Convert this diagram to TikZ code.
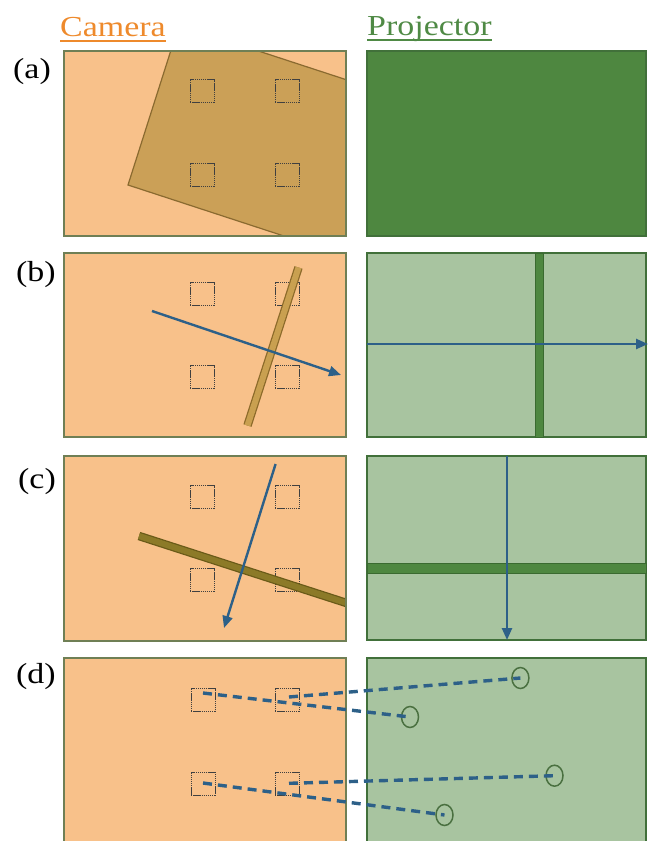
\documentclass[tikz,border=0pt]{standalone}
\usepackage{fontspec}
\setmainfont{Liberation Serif}
\usetikzlibrary{arrows.meta,shapes.geometric}
\definecolor{camfill}{HTML}{F8C18A}
\definecolor{camborder}{HTML}{6F7F55}
\definecolor{quadfill}{HTML}{CBA057}
\definecolor{quadborder}{HTML}{8A6A30}
\definecolor{projdark}{HTML}{4E8740}
\definecolor{projlight}{HTML}{A8C4A0}
\definecolor{projborder}{HTML}{41703A}
\definecolor{stripeb}{HTML}{C9A050}
\definecolor{stripebb}{HTML}{8C6A2A}
\definecolor{stripec}{HTML}{8C7A28}
\definecolor{stripecb}{HTML}{6A5A18}
\definecolor{pstripe}{HTML}{4E8740}
\definecolor{pstripeb}{HTML}{3A6A30}
\definecolor{arrblue}{HTML}{2D6088}
\definecolor{camtext}{HTML}{EE8A2C}
\definecolor{projtext}{HTML}{4F8A45}
\definecolor{circcol}{HTML}{4A7040}
\begin{document}
\begin{tikzpicture}[x=1pt,y=-1pt,
  lbl/.style={anchor=base west,inner sep=0pt,font=\fontsize{29}{30}\selectfont},
  campanel/.style={fill=camfill,draw=camborder,line width=1.2pt},
  projpanel/.style={fill=projlight,draw=projborder,line width=1.2pt},
  sq/.style={draw=black!75,line width=0.9pt,dash pattern=on 1.4pt off 0.7pt,minimum width=24pt,minimum height=23pt,inner sep=0pt},
  quad/.style={fill=quadfill,draw=quadborder,line width=1.2pt},
  bluearrow/.style={draw=arrblue,line width=2.4pt,-{Triangle[length=12pt,width=10pt]}},
  pstripestyle/.style={fill=pstripe,draw=pstripeb,line width=0.8pt},
  bluedash/.style={draw=arrblue,line width=3.4pt,dash pattern=on 9pt off 6pt},
  circ/.style={ellipse,draw=circcol,line width=1.5pt,minimum width=17pt,minimum height=21pt,inner sep=0pt}]
\useasboundingbox (0,0) rectangle (649,841);
\clip (0,0) rectangle (649,841);

% titles
\node[lbl,text=camtext] (tcam) at (60,36) {\scalebox{1.17}[1]{Camera}};
\draw[camtext,line width=1.5pt] (tcam.base west) ++(0,5) coordinate (u1) -- ++(106,0) coordinate (u2);
\node[lbl,text=projtext] (tproj) at (367,35) {\scalebox{1.17}[1]{Projector}};
\draw[projtext,line width=1.5pt] (tproj.base west) ++(0,5) coordinate (u3) -- ++(125,0) coordinate (u4);

% row labels
\node[lbl] (la) at (13,78) {\scalebox{1.17}[1]{(a)}};
\node[lbl] (lb) at (16,281) {\scalebox{1.17}[1]{(b)}};
\node[lbl] (lc) at (18,488) {\scalebox{1.17}[1]{(c)}};
\node[lbl] (ld) at (16,683) {\scalebox{1.17}[1]{(d)}};

% ===== (a) =====
\fill[camfill] (64,51) rectangle (346,236);
\begin{scope}
  \clip (64,51) rectangle (346,236);
  \filldraw[quad] (128,185) -- (179,25) -- (503,131) -- (452,291) -- cycle;
\end{scope}
\draw[camborder,line width=1.2pt] (64,51) rectangle (346,236);
\node[sq] (a1) at (202,91) {};
\node[sq] (a2) at (287,91) {};
\node[sq] (a3) at (202,175) {};
\node[sq] (a4) at (287,175) {};
\filldraw[fill=projdark,draw=projborder,line width=1.2pt] (367,51) rectangle (646,236);

% ===== (b) =====
\draw[campanel] (64,253) rectangle (346,437);
\node[sq] (b1) at (202,294) {};
\node[sq] (b2) at (287,294) {};
\node[sq] (b3) at (202,377) {};
\node[sq] (b4) at (287,377) {};
\coordinate (bs1) at (298.5,267.5);
\coordinate (bs2) at (247.5,425.5);
\draw[stripebb,line width=8.5pt] (bs1) -- (bs2);
\draw[stripeb,line width=6pt] (bs1) -- (bs2);
\coordinate (ba1) at (152,311);
\coordinate (ba2) at (341,375);
\draw[bluearrow] (ba1) -- (ba2);
\draw[projpanel] (367,253) rectangle (646,437);
\filldraw[pstripestyle] (535,253) rectangle (543,437);
\coordinate (bp1) at (367,344);
\coordinate (bp2) at (648,344);
\draw[bluearrow] (bp1) -- (bp2);

% ===== (c) =====
\draw[campanel] (64,456) rectangle (346,641);
\node[sq] (c1) at (202,497) {};
\node[sq] (c2) at (287,497) {};
\node[sq] (c3) at (202,580) {};
\node[sq] (c4) at (287,580) {};
\begin{scope}
  \clip (64,456) rectangle (345.4,641);
  \coordinate (cs1) at (139,536);
  \coordinate (cs2) at (370,610.6);
  \draw[stripecb,line width=8.5pt] (cs1) -- (cs2);
  \draw[stripec,line width=6pt] (cs1) -- (cs2);
\end{scope}
\draw[camborder,line width=1.2pt] (64,456) rectangle (346,641);
\coordinate (ca1) at (275.6,464);
\coordinate (ca2) at (224,628);
\draw[bluearrow] (ca1) -- (ca2);
\draw[projpanel] (367,456) rectangle (646,640);
\filldraw[pstripestyle] (367,563.5) rectangle (646,573.5);
\coordinate (cp1) at (507,456);
\coordinate (cp2) at (507,640);
\draw[bluearrow] (cp1) -- (cp2);

% ===== (d) =====
\draw[campanel] (64,658) rectangle (346,850);
\node[sq] (d1) at (203,700) {};
\node[sq] (d2) at (287,700) {};
\node[sq] (d3) at (203,783.5) {};
\node[sq] (d4) at (287,783.5) {};
\draw[projpanel] (367,658) rectangle (646,850);
\node[circ] (e1) at (410,717) {};
\node[circ] (e2) at (520.4,678) {};
\node[circ] (e3) at (444.5,815) {};
\node[circ] (e4) at (554.5,775.7) {};
\coordinate (s1) at (203,693);
\coordinate (s2) at (289,697);
\coordinate (s3) at (203,783);
\coordinate (s4) at (289,783.3);
\draw[bluedash] (s1) -- (e1.center);
\draw[bluedash] (s2) -- (e2.center);
\draw[bluedash] (s3) -- (e3.center);
\draw[bluedash] (s4) -- (e4.center);
\end{tikzpicture}
\end{document}
